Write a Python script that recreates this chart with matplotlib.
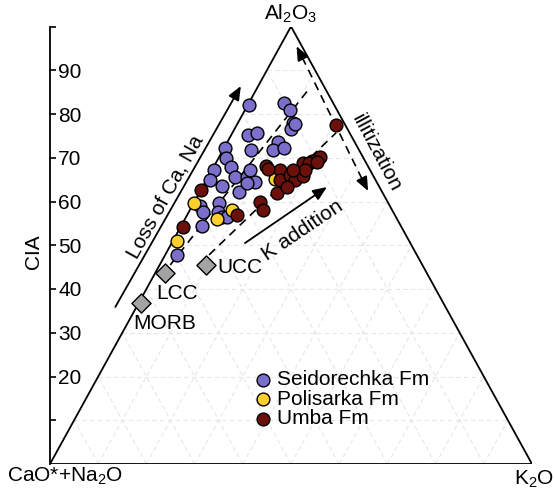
import numpy as np
import matplotlib
matplotlib.use('Agg')
from matplotlib import pyplot as plt

plt.rcParams['font.family'] = ['Liberation Sans', 'DejaVu Sans']
plt.rcParams['mathtext.fontset'] = 'custom'
plt.rcParams['mathtext.rm'] = 'Liberation Sans'
plt.rcParams['mathtext.default'] = 'regular'

# molar proportions in %: A = Al2O3 (= CIA), K = K2O, CN = 100 - A - K
seid_A = [82.1, 82.5, 80.9, 77.9, 76.6, 77.7, 75.2, 75.7, 71.8, 73.6, 71.8, 72.2,
          72.2, 69.9, 67.9, 67.2, 64.9, 63.5, 65.6, 65.6, 67.2, 64.5, 62.2, 64.2,
          59.0, 57.6, 59.7, 57.6, 54.4, 56.5, 56.5, 47.8]
seid_K = [0.3, 7.3, 9.3, 11.5, 11.7, 12.0, 3.5, 5.1, 5.8, 10.5, 10.4, 12.4,
          0.3, 1.5, 3.6, 0.5, 0.7, 3.9, 5.6, 8.1, 7.9, 10.3, 8.1, 8.8,
          1.6, 2.9, 5.3, 6.1, 4.3, 7.5, 8.5, 2.4]

poli_A = [51.0, 59.7, 56.0, 58.1, 65.1]
poli_K = [0.8, 0.0, 6.6, 8.8, 14.1]

umba_A = [77.5, 70.2, 69.3, 68.8, 68.8, 69.0, 67.2, 68.1, 67.4, 64.9, 66.1,
          64.9, 65.8, 67.2, 67.2, 61.9, 63.3, 59.9, 58.1, 56.9, 62.6, 54.2]
umba_K = [20.6, 20.9, 19.8, 18.1, 19.3, 20.9, 14.1, 10.7, 11.5, 15.2, 16.8,
          18.3, 19.6, 19.3, 16.8, 16.1, 17.5, 13.7, 15.2, 10.3, 0.0, 0.5]

ref_names = ['MORB', 'LCC', 'UCC']
ref_A = [36.8, 43.7, 45.5]
ref_K = [0.5, 2.0, 9.6]

cia_ticks = [10, 20, 30, 40, 50, 60, 70, 80, 90, 100]
cia_labels = ['', '20', '30', '40', '50', '60', '70', '80', '90', '']

purple = '#7a6fcb'
yellow = '#ffcf2b'
darkred = '#6b100b'
grey = '#a3a3a3'


def tern(a, k):
    # A at the top, CN bottom left, K bottom right
    a = np.asarray(a, dtype=float)
    k = np.asarray(k, dtype=float)
    return k + a / 2.0, a


fig = plt.figure(figsize=(5.54, 4.91), dpi=100)
ax = fig.add_axes([50 / 554, 27 / 491, 482 / 554, 437.5 / 491])
ax.set_xlim(0, 100)
ax.set_ylim(0, 100)

# grid
grid_kw = dict(color='#e6e6e6', lw=0.8, ls=(0, (4, 3)), zorder=0)
for v in range(10, 100, 10):
    ax.plot(*tern([v, v], [0, 100 - v]), **grid_kw)
    ax.plot(*tern([0, 100 - v], [v, v]), **grid_kw)
    ax.plot(*tern([0, 100 - v], [100 - v, 0]), **grid_kw)

# triangle
ax.plot(*tern([0, 0, 100, 0], [0, 100, 0, 0]), color='black', lw=1.3, zorder=2,
        solid_joinstyle='miter')

# CIA axis on the CN corner
for s in ['left', 'top', 'bottom']:
    ax.spines[s].set_visible(False)
ax.spines['right'].set_position(('data', 0))
ax.spines['right'].set_linewidth(1.3)
ax.yaxis.tick_right()
ax.set_yticks(cia_ticks)
ax.set_yticklabels(cia_labels)
ax.tick_params(axis='y', direction='out', length=4, width=1.2, pad=2, labelsize=15)
ax.set_xticks([])
ax.text(-3.5, 48.5, 'CIA', rotation=90, ha='center', va='center', fontsize=15)

# trend lines
dash_kw = dict(color='black', lw=1.2, ls=(0, (5, 3.5)), zorder=3)
ax.plot(*tern([45.5, 85.9], [2.2, 10.9]), **dash_kw)
ax.plot(*tern([47.8, 75.7], [9.1, 21.5]), **dash_kw)

arrow_kw = dict(arrowstyle='-|>,head_length=0.6,head_width=0.25', color='black',
                lw=1.3, mutation_scale=14, shrinkA=0, shrinkB=0)
ax.annotate('', xy=tern(86.4, -3.6), xytext=tern(35.9, -4.4), arrowprops=arrow_kw,
            annotation_clip=False, zorder=4)
ax.annotate('', xy=tern(63.3, 25.8), xytext=tern(50.5, 15.2), arrowprops=arrow_kw,
            zorder=4)

# illitization double arrow
ill_top = (95.5, 3.4)
ill_bot = (62.4, 34.8)
ax.plot(*tern([93.0, 65.0], [5.8, 32.3]), **dash_kw)
ax.annotate('', xy=tern(*ill_top), xytext=tern(93.0, 5.8), arrowprops=arrow_kw, zorder=4)
ax.annotate('', xy=tern(*ill_bot), xytext=tern(65.0, 32.3), arrowprops=arrow_kw, zorder=4)

ax.text(*tern(61.0, -6.5), 'Loss of Ca, Na', rotation=61, ha='center', va='center',
        fontsize=15)
ax.text(*tern(53.5, 25.6), 'K addition', rotation=34, ha='center', va='center',
        fontsize=15)
ax.text(*tern(71.1, 32.1), 'illitization', rotation=-62, ha='center', va='center',
        fontsize=15)

# data
sc_kw = dict(s=85, edgecolors='black', linewidths=1.0, zorder=5, clip_on=False)
ax.scatter(*tern(seid_A, seid_K), color=purple, label='Seidorechka Fm', **sc_kw)
ax.scatter(*tern(poli_A, poli_K), color=yellow, label='Polisarka Fm', **sc_kw)
ax.scatter(*tern(umba_A, umba_K), color=darkred, label='Umba Fm', **sc_kw)

ax.scatter(*tern(ref_A, ref_K), marker='D', s=95, color=grey, edgecolors='black',
           linewidths=1.0, zorder=5)
ref_offsets = [(17, -15, 'center'), (9, -15, 'center'), (8, -2, 'left')]
for name, a, k, (dx, dy, ha) in zip(ref_names, ref_A, ref_K, ref_offsets):
    ax.annotate(name, xy=tern(a, k), xytext=(dx, dy), textcoords='offset points',
                ha=ha, va='center', fontsize=15)

# corner labels
ax.text(50, 103, r'Al$_2$O$_3$', ha='center', va='center', fontsize=15)
ax.text(3.1, -2.8, r'CaO*+Na$_2$O', ha='center', va='center', fontsize=15)
ax.text(100.4, -3.4, r'K$_2$O', ha='center', va='center', fontsize=15)

ax.legend(loc='upper left', bbox_to_anchor=(42.5, 21.4), bbox_transform=ax.transData,
          frameon=False, fontsize=15, handlelength=0.8, handletextpad=0.25,
          borderpad=0, borderaxespad=0, labelspacing=0.02, scatterpoints=1)

fig.savefig('out.png', dpi=100)
